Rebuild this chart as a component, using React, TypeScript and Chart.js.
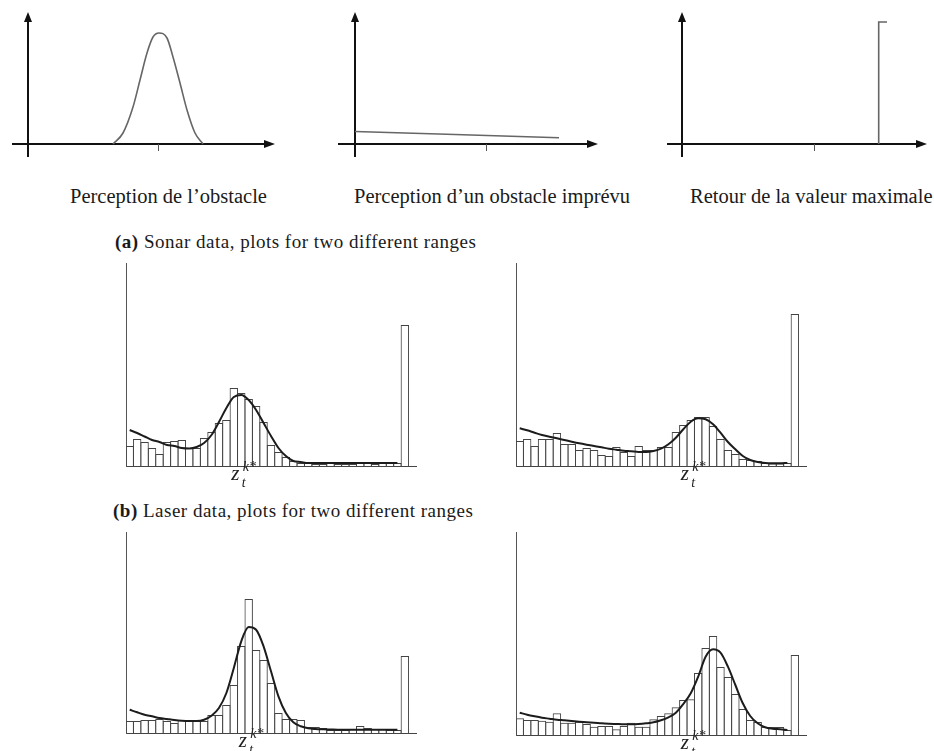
import React, { useEffect, useRef } from "react";
import { Chart, registerables } from "chart.js";

Chart.register(...registerables);

// ---------- Top schematic panels (x = distance along the axis, y = density) ----------
const OBSTACLE_X = [85, 95, 105, 112, 119, 125, 131, 139, 145, 152, 159, 167, 175];
const OBSTACLE_Y = [0, 11, 37, 64, 91, 107, 111, 106, 87, 61, 34, 11, 0];
const UNEXPECTED_X = [0, 100, 204];
const UNEXPECTED_Y = [12.5, 9.5, 6.3];
const MAXRANGE_X = [196.7, 196.7, 205];
const MAXRANGE_Y = [0, 122, 122];
const TOP_TICKS = [130, 131, 132];
const TOP_CAPTIONS = [
  "Perception de l’obstacle",
  "Perception d’un obstacle imprévu",
  "Retour de la valeur maximale",
];

// ---------- Histograms: 37 range bins + max-range bin (+1 empty bin) ----------
const BINS = Array.from({ length: 39 }, (_, i) => `b${i}`);

const SONAR_NEAR_BARS = [20, 27, 24, 18, 12, 24, 25, 26, 18, 18, 28, 34, 43, 46, 78, 73, 67, 60, 44, 21, 14, 9, 5, 3, 3, 2, 2, 3, 2, 2, 2, 3, 3, 2, 3, 3, 3, 141];
const SONAR_NEAR_MODEL = [36, 33, 29.5, 26, 24, 21, 20, 18, 17.5, 19, 23, 31, 44, 58, 69, 71, 66, 56, 43, 30, 18, 10, 5, 4, 3, 3, 3, 3, 3, 3, 3, 3, 3, 3, 3, 3, 3, null, null];

const SONAR_FAR_BARS = [25, 27, 20, 27, 27, 33, 22, 22, 16, 18, 16, 11, 10, 19, 14, 10, 20, 16, 16, 19, 19, 34, 41, 46, 49, 49, 40, 27, 16, 12, 7, 6, 5, 3, 2.5, 2.5, 3, 152];
const SONAR_FAR_MODEL = [37.7, 35.7, 33.3, 31, 29.3, 27.7, 26, 24.3, 22.7, 21.3, 20, 18.7, 17.3, 16.3, 15.3, 14.7, 14, 14, 15, 17.3, 21.7, 28.3, 36.7, 44.3, 47.7, 46.7, 41.7, 33.3, 24, 16.7, 10, 6, 4, 3, 2.7, 2.7, 3, null, null];

const LASER_NEAR_BARS = [12, 12, 13, 13, 14, 12, 10, 13, 12, 12, 12, 18, 18, 28, 48, 87, 134, 83, 73, 50, 20, 14, 14, 13, 6, 6, 5, 3, 3, 3, 4, 7, 5, 4, 4, 3, 3, 77];
const LASER_NEAR_MODEL = [23.3, 20.7, 18.3, 16.7, 15, 14, 13, 12.3, 12, 12, 13.3, 17.3, 25, 40, 65, 91.7, 106, 103.3, 86.7, 61.7, 36.7, 20, 10.7, 6.7, 4.7, 4, 3.7, 3.5, 3.3, 3.3, 3.3, 3.3, 3.3, 3.3, 3.3, 3.3, 3.3, null, null];

const LASER_FAR_BARS = [16.7, 15, 15, 14.3, 13.3, 21.7, 12.3, 12.3, 13.3, 11, 8.3, 9, 9, 5.7, 9, 12.3, 8.3, 8.3, 15.7, 19, 21.7, 27.7, 35, 35.7, 62, 87, 99, 68, 58, 41, 26, 15, 13, 8, 8, 8, 5, 80];
const LASER_FAR_MODEL = [22.3, 20.3, 18.7, 17.3, 16.3, 15.3, 14.7, 14, 13.3, 12.7, 12.3, 11.7, 11.3, 11, 10.7, 10.7, 11, 11.7, 12.7, 14.7, 17.7, 22.3, 31, 41.7, 58.3, 78.3, 85.7, 82.3, 68.3, 50, 31.7, 19, 11.7, 7.7, 6.3, 5.7, 5, null, null];

const Z_BIN = [15, 23, 16, 23];
const SECTION_TITLES = [
  ["(a)", " Sonar data, plots for two different ranges"],
  ["(b)", " Laser data, plots for two different ranges"],
];

// ---------- plugins ----------
const arrowAxesPlugin = {
  id: "arrowAxes",
  beforeDatasetsDraw(chart: any, _a: any, opts: any) {
    const { ctx, chartArea, scales } = chart;
    const x0 = scales.x.getPixelForValue(0);
    const y0 = scales.y.getPixelForValue(0);
    ctx.save();
    ctx.strokeStyle = "#111";
    ctx.fillStyle = "#111";
    ctx.lineWidth = 2;
    ctx.beginPath();
    ctx.moveTo(chartArea.left, y0);
    ctx.lineTo(chartArea.right - 8, y0);
    ctx.moveTo(x0, chartArea.bottom);
    ctx.lineTo(x0, chartArea.top + 8);
    ctx.stroke();
    ctx.beginPath();
    ctx.moveTo(chartArea.right, y0);
    ctx.lineTo(chartArea.right - 11, y0 - 4);
    ctx.lineTo(chartArea.right - 11, y0 + 4);
    ctx.closePath();
    ctx.fill();
    ctx.beginPath();
    ctx.moveTo(x0, chartArea.top);
    ctx.lineTo(x0 - 4, chartArea.top + 10);
    ctx.lineTo(x0 + 4, chartArea.top + 10);
    ctx.closePath();
    ctx.fill();
    const tx = Math.round(scales.x.getPixelForValue(opts.tick)) + 0.5;
    ctx.lineWidth = 1;
    ctx.strokeStyle = "#555";
    ctx.beginPath();
    ctx.moveTo(tx, y0);
    ctx.lineTo(tx, y0 + 7);
    ctx.stroke();
    ctx.restore();
  },
};

const zLabelPlugin = {
  id: "zLabel",
  afterDraw(chart: any, _a: any, opts: any) {
    const { ctx, chartArea, scales } = chart;
    const px = scales.x.getPixelForValue(opts.index);
    const b = chartArea.bottom;
    ctx.save();
    ctx.fillStyle = "#222";
    ctx.textAlign = "left";
    ctx.textBaseline = "alphabetic";
    ctx.font = 'italic 21px "Liberation Serif"';
    ctx.fillText("z", px - 10, b + 14);
    ctx.font = 'italic 14px "Liberation Serif"';
    ctx.fillText("k*", px + 1.5, b + 5);
    ctx.fillText("t", px + 0.5, b + 21);
    ctx.restore();
  },
};

// ---------- config builders ----------
function schematicConfig(xs: number[], ys: number[], xMin: number, xMax: number, tick: number, smooth: boolean) {
  return {
    type: "line",
    data: {
      datasets: [
        {
          data: xs.map((x, i) => ({ x, y: ys[i] })),
          borderColor: "#666",
          borderWidth: 1.6,
          pointRadius: 0,
          fill: false,
          tension: smooth ? 0.4 : 0,
          cubicInterpolationMode: smooth ? "monotone" : "default",
        },
      ],
    },
    options: {
      responsive: false,
      animation: false,
      events: [],
      layout: { padding: 0 },
      plugins: { legend: { display: false }, tooltip: { enabled: false }, arrowAxes: { tick } },
      scales: {
        x: { type: "linear", min: xMin, max: xMax, display: false },
        y: { type: "linear", min: -13, max: 132, display: false },
      },
    },
    plugins: [arrowAxesPlugin],
  };
}

function histogramConfig(bars: number[], model: (number | null)[], yMax: number, zIndex: number, bottomPad: number) {
  return {
    type: "bar",
    data: {
      labels: BINS,
      datasets: [
        {
          type: "line",
          data: model,
          borderColor: "#1c1c1c",
          borderWidth: 2,
          pointRadius: 0,
          fill: false,
          cubicInterpolationMode: "monotone",
          order: 0,
        },
        {
          type: "bar",
          data: bars,
          backgroundColor: "rgba(255,255,255,0)",
          borderColor: "#444",
          borderWidth: 1,
          barPercentage: 1.135,
          categoryPercentage: 1,
          order: 1,
        },
      ],
    },
    options: {
      responsive: false,
      animation: false,
      events: [],
      layout: { padding: { left: 10, right: 10, top: 8, bottom: bottomPad } },
      plugins: { legend: { display: false }, tooltip: { enabled: false }, zLabel: { index: zIndex } },
      scales: {
        x: {
          type: "category",
          offset: true,
          grid: { display: false, drawTicks: false },
          border: { display: true, color: "#444", width: 1 },
          ticks: { display: false },
        },
        y: {
          min: 0,
          max: yMax,
          grid: { display: false, drawTicks: false },
          border: { display: true, color: "#555", width: 1 },
          ticks: { display: false },
        },
      },
    },
    plugins: [zLabelPlugin],
  };
}

type CanvasProps = { left: number; top: number; width: number; height: number; build: () => any };

function ChartCanvas({ left, top, width, height, build }: CanvasProps) {
  const ref = useRef<HTMLCanvasElement | null>(null);
  useEffect(() => {
    if (!ref.current) return;
    const chart = new Chart(ref.current, build());
    return () => chart.destroy();
  }, []);
  return (
    <canvas
      ref={ref}
      width={width}
      height={height}
      style={{ position: "absolute", left, top, width, height }}
    />
  );
}

const captionStyle = (left: number, top: number): React.CSSProperties => ({
  position: "absolute",
  left,
  top,
  fontFamily: '"Liberation Serif", serif',
  fontSize: 20.5,
  lineHeight: "20.5px",
  color: "#1a1a1a",
  whiteSpace: "nowrap",
});

const titleStyle = (left: number, top: number): React.CSSProperties => ({
  position: "absolute",
  left,
  top,
  fontFamily: '"Liberation Serif", serif',
  fontSize: 19,
  lineHeight: "19px",
  letterSpacing: 0.5,
  color: "#1a1a1a",
  whiteSpace: "nowrap",
});

export default function App() {
  return (
    <div
      style={{
        position: "absolute",
        left: 0,
        top: 0,
        width: 934,
        height: 751,
        overflow: "hidden",
        background: "#fff",
      }}
    >
      <ChartCanvas left={12} top={12} width={263} height={145} build={() => schematicConfig(OBSTACLE_X, OBSTACLE_Y, -16, 247, TOP_TICKS[0], true)} />
      <ChartCanvas left={338} top={12} width={260} height={145} build={() => schematicConfig(UNEXPECTED_X, UNEXPECTED_Y, -17, 243, TOP_TICKS[1], false)} />
      <ChartCanvas left={667} top={12} width={260} height={145} build={() => schematicConfig(MAXRANGE_X, MAXRANGE_Y, -15, 245, TOP_TICKS[2], false)} />

      <div style={captionStyle(70, 186)}>{TOP_CAPTIONS[0]}</div>
      <div style={captionStyle(354, 186)}>{TOP_CAPTIONS[1]}</div>
      <div style={captionStyle(690, 186)}>{TOP_CAPTIONS[2]}</div>

      <div style={titleStyle(115, 232)}>
        <b>{SECTION_TITLES[0][0]}</b>
        {SECTION_TITLES[0][1]}
      </div>

      <ChartCanvas left={116} top={255} width={310} height={240} build={() => histogramConfig(SONAR_NEAR_BARS, SONAR_NEAR_MODEL, 203, Z_BIN[0], 29)} />
      <ChartCanvas left={506} top={255} width={310} height={240} build={() => histogramConfig(SONAR_FAR_BARS, SONAR_FAR_MODEL, 203, Z_BIN[1], 29)} />

      <div style={titleStyle(113, 501)}>
        <b>{SECTION_TITLES[1][0]}</b>
        {SECTION_TITLES[1][1]}
      </div>

      <ChartCanvas left={116} top={524} width={310} height={227} build={() => histogramConfig(LASER_NEAR_BARS, LASER_NEAR_MODEL, 201, Z_BIN[2], 18)} />
      <ChartCanvas left={506} top={524} width={310} height={227} build={() => histogramConfig(LASER_FAR_BARS, LASER_FAR_MODEL, 203, Z_BIN[3], 16)} />
    </div>
  );
}
